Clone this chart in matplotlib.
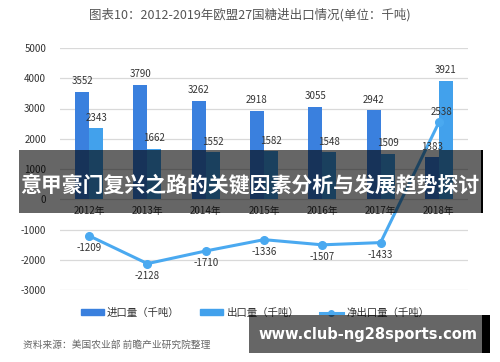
import matplotlib
matplotlib.use("Agg")
import matplotlib.pyplot as plt
from matplotlib.patches import Rectangle, Patch
from matplotlib.lines import Line2D
import numpy as np

plt.rcParams['font.family'] = ['Noto Sans CJK SC', 'DejaVu Sans']

years = ["2012年", "2013年", "2014年", "2015年", "2016年", "2017年", "2018年"]
imports = [3552, 3790, 3262, 2918, 3055, 2942, 1383]
exports = [2343, 1662, 1552, 1582, 1548, 1509, 3921]
net_exports = [-1209, -2128, -1710, -1336, -1507, -1433, 2538]
yticks = [-3000, -2000, -1000, 0, 1000, 2000, 3000, 4000, 5000]

title = "图表10：2012-2019年欧盟27国糖进出口情况(单位：千吨)"
legend_labels = ["进口量（千吨）", "出口量（千吨）", "净出口量（千吨）"]
source = "资料来源：美国农业部 前瞻产业研究院整理"
banner1 = "意甲豪门复兴之路的关键因素分析与发展趋势探讨"
banner2 = "www.club-ng28sports.com"

c_imp = "#3A80DE"
c_exp = "#42A1EC"
c_net = "#4AA9F0"

W, H = 500, 362
fig = plt.figure(figsize=(5, 3.62), dpi=100)
ax = fig.add_axes([60 / W, 1 - 290 / H, (468 - 60) / W, (290 - 48) / H])

x = np.arange(len(years))
bw = 0.24
ax.bar(x - bw / 2, imports, width=bw, color=c_imp, zorder=2)
ax.bar(x + bw / 2, exports, width=bw, color=c_exp, zorder=2)
ax.plot(x, net_exports, color=c_net, lw=2.2, marker='o', ms=5.5, zorder=3)

ax.set_xlim(-0.5, len(years) - 0.5)
ax.set_ylim(-3000, 5000)
ax.set_yticks(yticks)
ax.set_yticklabels([str(v) for v in yticks], fontsize=7, color="#333333")
ax.tick_params(axis='y', length=0, pad=10)
ax.set_xticks([])
for s in ax.spines.values():
    s.set_visible(False)
ax.grid(axis='y', color="#d9d9d9", lw=0.9, zorder=0)
ax.set_axisbelow(True)

for i in x:
    ax.annotate(str(imports[i]), (i - bw / 2, imports[i]), xytext=(0, 4),
                textcoords='offset points', ha='center', va='bottom', fontsize=7, color="#333333")
    ax.annotate(str(exports[i]), (i + bw / 2, exports[i]), xytext=(0, 4),
                textcoords='offset points', ha='center', va='bottom', fontsize=7, color="#333333")
    if net_exports[i] < 0:
        ax.annotate(str(net_exports[i]), (i, net_exports[i]), xytext=(0, -5),
                    textcoords='offset points', ha='center', va='top', fontsize=7, color="#333333")
    else:
        ax.annotate(str(net_exports[i]), (i, net_exports[i]), xytext=(2, 4),
                    textcoords='offset points', ha='center', va='bottom', fontsize=7, color="#333333")
    ax.annotate(years[i], (i, 0), xytext=(0, -5), textcoords='offset points',
                ha='center', va='top', fontsize=7, color="#333333")

fig.text(0.5, 1 - 15 / H, title, ha='center', va='center', fontsize=9, color="#555555")

handles = [Patch(color=c_imp), Patch(color=c_exp),
           Line2D([0], [0], color=c_net, lw=2.2, marker='o', ms=4)]
fig.legend(handles, legend_labels, loc='center', bbox_to_anchor=(0.51, 1 - 313 / H),
           ncol=3, frameon=False, fontsize=7.5, handlelength=2.2, handleheight=0.5,
           columnspacing=2.0, handletextpad=0.3, labelcolor="#333333")

fig.text(23 / W, 1 - 345 / H, source, ha='left', va='center', fontsize=7,
         color="#666666", style='italic')

# overlay banners
fig.add_artist(Rectangle((19 / W, 1 - 213 / H), (482 - 19) / W, (213 - 150) / H,
                         transform=fig.transFigure, color='black', alpha=0.6, lw=0, zorder=10))
fig.add_artist(Rectangle((481 / W, 1 - 213 / H), 1.5 / W, (213 - 150) / H,
                         transform=fig.transFigure, color='black', lw=0, zorder=10))
fig.text(250 / W, 1 - 185 / H, banner1, ha='center', va='center', fontsize=15,
         color='white', fontweight='bold', zorder=11)

fig.add_artist(Rectangle((249 / W, 1 - 353 / H), (482 - 249) / W, (353 - 315) / H,
                         transform=fig.transFigure, color='black', alpha=0.6, lw=0, zorder=10))
fig.add_artist(Rectangle((482 / W, 1 - 353 / H), 8 / W, (353 - 315) / H,
                         transform=fig.transFigure, color='black', lw=0, zorder=10))
fig.text(258 / W, 1 - 334 / H, banner2, ha='left', va='center', fontsize=10.5,
         color='white', fontweight='bold', family=['DejaVu Sans'], zorder=11)

fig.savefig("out.png", dpi=100, facecolor='white')
